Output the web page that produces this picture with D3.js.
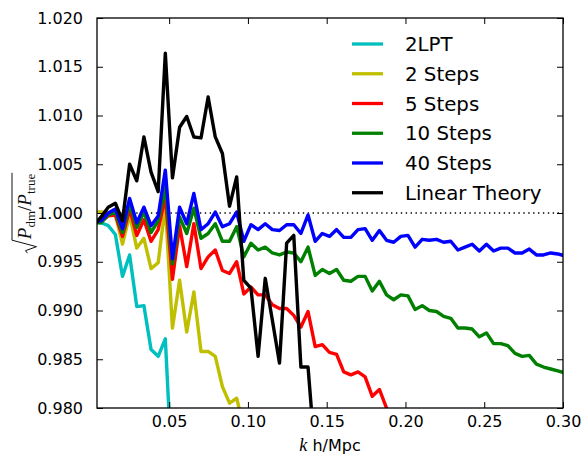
<!DOCTYPE html>
<html>
<head>
<meta charset="utf-8">
<script src="https://cdn.jsdelivr.net/npm/d3@7"></script>
<style>
  body { margin: 0; background: #fff; }
  text { font-family: "DejaVu Sans", sans-serif; }
</style>
</head>
<body>
<svg id="chart" width="587" height="457"></svg>
<script>
// Power spectrum ratio sqrt(P_dm / P_true) per k bin, for each run.
const binWidth = 0.00453;            // h/Mpc, bin spacing
const xTicks = [0.05, 0.10, 0.15, 0.20, 0.25, 0.30];
const xTickLabels = ["0.05", "0.10", "0.15", "0.20", "0.25", "0.30"];
const yTicks = [0.980, 0.985, 0.990, 0.995, 1.000, 1.005, 1.010, 1.015, 1.020];
const yTickLabels = ["0.980", "0.985", "0.990", "0.995", "1.000", "1.005", "1.010", "1.015", "1.020"];

const seriesNames = ["2LPT", "2 Steps", "5 Steps", "10 Steps", "40 Steps", "Linear Theory"];

const ratio2LPT = [0.9991, 0.9990, 0.9987, 0.9978, 0.9935, 0.9957, 0.9904, 0.9905, 0.9860, 0.9853,
  0.9871, 0.9725];

const ratio2Steps = [1.0001, 1.0001, 1.0000, 0.9998, 0.9968, 0.9998, 0.9964, 0.9974, 0.9943, 0.9949,
  1.0008, 0.9882, 0.9931, 0.9878, 0.9919, 0.9858, 0.9858, 0.9853, 0.9822, 0.9805,
  0.9810, 0.9780];

const ratio5Steps = [0.9990, 0.9991, 0.9997, 0.9998, 0.9976, 1.0004, 0.9977, 0.9993, 0.9971, 0.9983,
  1.0017, 0.9932, 0.9987, 0.9945, 0.9989, 0.9943, 0.9955, 0.9962, 0.9941, 0.9938,
  0.9950, 0.9917, 0.9924, 0.9916, 0.9916, 0.9906, 0.9902, 0.9902, 0.9895, 0.9883,
  0.9899, 0.9863, 0.9865, 0.9857, 0.9855, 0.9837, 0.9834, 0.9837, 0.9832, 0.9812,
  0.9819, 0.9800, 0.9780];

const ratio10Steps = [0.9990, 0.9990, 0.9998, 1.0001, 0.9980, 1.0010, 0.9985, 1.0001, 0.9980, 0.9992,
  1.0027, 0.9948, 0.9996, 0.9979, 1.0005, 0.9974, 0.9979, 0.9989, 0.9971, 0.9971,
  0.9986, 0.9955, 0.9969, 0.9962, 0.9965, 0.9959, 0.9957, 0.9960, 0.9959, 0.9950,
  0.9965, 0.9936, 0.9942, 0.9938, 0.9942, 0.9931, 0.9930, 0.9935, 0.9935, 0.9920,
  0.9930, 0.9916, 0.9911, 0.9916, 0.9915, 0.9901, 0.9905, 0.9900, 0.9899, 0.9894,
  0.9892, 0.9882, 0.9882, 0.9881, 0.9873, 0.9877, 0.9866, 0.9866, 0.9864, 0.9856,
  0.9853, 0.9854, 0.9845, 0.9842, 0.9840, 0.9838, 0.9836];

const ratio40Steps = [0.9991, 0.9992, 1.0000, 1.0004, 0.9984, 1.0015, 0.9990, 1.0006, 0.9987, 0.9997,
  1.0044, 0.9953, 1.0006, 0.9989, 1.0020, 0.9983, 0.9989, 1.0001, 0.9986, 0.9989,
  1.0001, 0.9971, 0.9988, 0.9983, 0.9989, 0.9983, 0.9982, 0.9988, 0.9988, 0.9979,
  0.9998, 0.9971, 0.9979, 0.9976, 0.9983, 0.9975, 0.9975, 0.9983, 0.9984, 0.9972,
  0.9982, 0.9972, 0.9970, 0.9976, 0.9977, 0.9965, 0.9973, 0.9972, 0.9973, 0.9970,
  0.9971, 0.9962, 0.9965, 0.9968, 0.9961, 0.9968, 0.9961, 0.9964, 0.9964, 0.9959,
  0.9959, 0.9963, 0.9957, 0.9957, 0.9959, 0.9958, 0.9956];

const ratioLinear = [0.9987, 0.9996, 1.0006, 1.0010, 0.9992, 1.0050, 1.0033, 1.0078, 1.0042, 1.0022,
  1.0164, 1.0036, 1.0088, 1.0099, 1.0078, 1.0077, 1.0119, 1.0078, 1.0061, 1.0007,
  1.0037, 0.9931, 0.9923, 0.9853, 0.9933, 0.9890, 0.9846, 0.9969, 0.9977, 0.9842,
  0.9842, 0.9750];

const seriesValues = [ratio2LPT, ratio2Steps, ratio5Steps, ratio10Steps, ratio40Steps, ratioLinear];
const seriesColors = ["#00bfbf", "#bfbf00", "#ff0000", "#008000", "#0000ff", "#000000"];

// bin centres
const kBins = d3.range(d3.max(seriesValues, s => s.length)).map(i => (i + 0.5) * binWidth);

const margin = { left: 97, right: 563, top: 18, bottom: 408 };
const svg = d3.select("#chart");

const x = d3.scaleLinear().domain([0.0042, 0.30]).range([margin.left, margin.right]);
const y = d3.scaleLinear().domain([0.980, 1.020]).range([margin.bottom, margin.top]);

svg.append("defs").append("clipPath").attr("id", "plotClip")
  .append("rect")
  .attr("x", margin.left).attr("y", margin.top)
  .attr("width", margin.right - margin.left).attr("height", margin.bottom - margin.top);

// reference level at unity
svg.append("line")
  .attr("x1", margin.left).attr("x2", margin.right)
  .attr("y1", y(1.0)).attr("y2", y(1.0))
  .attr("stroke", "#000").attr("stroke-width", 1.3)
  .attr("stroke-dasharray", "1.4,3.5");

const line = d3.line().x((d, i) => x(kBins[i])).y(d => y(d));

const plot = svg.append("g").attr("clip-path", "url(#plotClip)");
seriesValues.forEach((vals, si) => {
  plot.append("path")
    .datum(vals)
    .attr("d", line)
    .attr("fill", "none")
    .attr("stroke", seriesColors[si])
    .attr("stroke-width", 3.4)
    .attr("stroke-linejoin", "round");
});

// axes: inward ticks on all four sides
const tickLen = 6;
const fmtX = (d, i) => xTickLabels[i];
const fmtY = (d, i) => yTickLabels[i];

const axB = svg.append("g").attr("transform", `translate(0,${margin.bottom})`)
  .call(d3.axisBottom(x).tickValues(xTicks).tickFormat(fmtX).tickSizeInner(-tickLen).tickSizeOuter(0).tickPadding(8));
const axT = svg.append("g").attr("transform", `translate(0,${margin.top})`)
  .call(d3.axisTop(x).tickValues(xTicks).tickFormat("").tickSizeInner(-tickLen).tickSizeOuter(0));
const axL = svg.append("g").attr("transform", `translate(${margin.left},0)`)
  .call(d3.axisLeft(y).tickValues(yTicks).tickFormat(fmtY).tickSizeInner(-tickLen).tickSizeOuter(0).tickPadding(14));
const axR = svg.append("g").attr("transform", `translate(${margin.right},0)`)
  .call(d3.axisRight(y).tickValues(yTicks).tickFormat("").tickSizeInner(-tickLen).tickSizeOuter(0));

[axB, axT, axL, axR].forEach(a => {
  a.select(".domain").remove();
  a.selectAll(".tick line").attr("stroke", "#000").attr("stroke-width", 1);
  a.selectAll(".tick text")
    .attr("fill", "#000")
    .style("font-family", "'DejaVu Sans', sans-serif")
    .style("font-size", "16px");
});

// frame
svg.append("rect")
  .attr("x", margin.left).attr("y", margin.top)
  .attr("width", margin.right - margin.left).attr("height", margin.bottom - margin.top)
  .attr("fill", "none").attr("stroke", "#000").attr("stroke-width", 1.3);

// x axis title
const xt = svg.append("text")
  .attr("x", (margin.left + margin.right) / 2).attr("y", 451)
  .attr("text-anchor", "middle").attr("fill", "#000")
  .style("font-size", "16px");
xt.append("tspan").style("font-family", "'Liberation Serif', serif").style("font-style", "italic")
  .style("font-size", "18px").text("k");
xt.append("tspan").text(" h/Mpc");

// y axis title: sqrt(P_dm / P_true)
const yt = svg.append("g").attr("transform", `translate(26,${(margin.top + margin.bottom) / 2}) rotate(-90)`);
const ytxt = yt.append("text").attr("y", 5).attr("fill", "#111")
  .style("font-family", "'Liberation Serif', serif").style("font-size", "19px");
ytxt.append("tspan").style("font-style", "italic").text("P");
ytxt.append("tspan").attr("dy", 3.5).style("font-size", "13px").text("dm");
ytxt.append("tspan").attr("dy", -3.5).text("/");
ytxt.append("tspan").style("font-style", "italic").text("P");
ytxt.append("tspan").attr("dy", 3.5).style("font-size", "13px").text("true");
const tw = ytxt.node().getComputedTextLength();
const rootW = 13;
const total = tw + rootW + 2;
const x0 = -total / 2;
ytxt.attr("x", x0 + rootW + 1);
yt.append("path")
  .attr("d", `M${x0},1.5 L${x0 + 2.5},-0.5 L${x0 + 6.5},10.5 L${x0 + rootW},-14 L${x0 + total},-14`)
  .attr("fill", "none").attr("stroke", "#111").attr("stroke-width", 1);

// legend (no frame)
const legend = svg.append("g");
seriesNames.forEach((name, i) => {
  const ly = 44 + i * 29.75;
  legend.append("line")
    .attr("x1", 352).attr("x2", 383).attr("y1", ly).attr("y2", ly)
    .attr("stroke", seriesColors[i]).attr("stroke-width", 3.3);
  legend.append("text")
    .attr("x", 405).attr("y", ly).attr("dy", "0.36em")
    .attr("fill", "#000")
    .style("font-size", "19.8px")
    .text(name);
});
</script>
</body>
</html>
